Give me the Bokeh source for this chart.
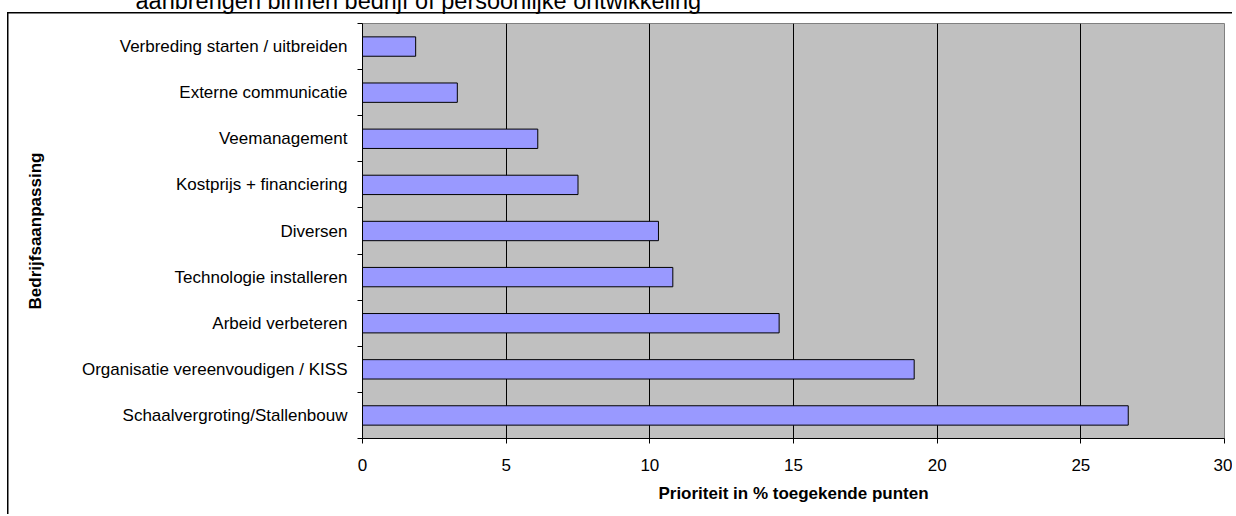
from bokeh.plotting import figure
from bokeh.models import Range1d, FixedTicker, ColumnDataSource
from bokeh.embed import file_html
from bokeh.resources import INLINE

# ---- data ----
categories = [
    "Verbreding starten / uitbreiden",
    "Externe communicatie",
    "Veemanagement",
    "Kostprijs + financiering",
    "Diversen",
    "Technologie installeren",
    "Arbeid verbeteren",
    "Organisatie vereenvoudigen / KISS",
    "Schaalvergroting/Stallenbouw",
]
values = [1.85, 3.3, 6.1, 7.5, 10.3, 10.8, 14.5, 19.2, 26.65]
x_ticks = [0, 5, 10, 15, 20, 25, 30]
x_title = "Prioriteit in % toegekende punten"
y_title = "Bedrijfsaanpassing"
top_text = "aanbrengen binnen bedrijf of persoonlijke ontwikkeling"

FONT = "Liberation Sans"
M = 30  # part of the canvas pushed above the page top (heading is cut off)

n = len(categories)
pos = [i + 0.5 for i in range(n)]
boundaries = list(range(n + 1))

src = ColumnDataSource(dict(y=pos, right=values, cat=categories))

p = figure(width=1232, height=514 + M, output_backend="svg", toolbar_location=None,
           x_range=Range1d(0, 30), y_range=Range1d(n, 0),
           min_border_left=362, min_border_right=8, min_border_top=23 + M,
           min_border_bottom=76)
p.styles = {
    "margin-top": f"-{M}px",
    "background-image": "linear-gradient(#000, #000), linear-gradient(#000, #000)",
    "background-size": "1.5px 100%, 100% 1.5px",
    "background-position": f"7px {12 + M}px, 7px {12 + M}px",
    "background-repeat": "no-repeat",
}

p.title.text = top_text
p.title.text_font = FONT
p.title.text_font_size = "23.5px"
p.title.text_font_style = "normal"
p.title.text_color = "black"
p.title.align = "left"
p.title.offset = 135 - 362
p.title.standoff = 19

p.background_fill_color = "#C0C0C0"
p.border_fill_alpha = 0
p.outline_line_color = "#808080"
p.outline_line_width = 1

# grid
p.xgrid.ticker = FixedTicker(ticks=x_ticks)
p.xgrid.grid_line_color = "black"
p.xgrid.grid_line_width = 1
p.ygrid.visible = False

# bars
p.hbar(y="y", right="right", left=0, height=0.42, source=src,
       fill_color="#9999FF", line_color="black", line_width=1)

# x axis
xa = p.xaxis[0]
xa.ticker = FixedTicker(ticks=x_ticks)
xa.axis_line_color = "black"
xa.major_tick_line_color = "black"
xa.major_tick_out = 5
xa.major_tick_in = 0
xa.minor_tick_line_color = None
xa.major_label_text_font = FONT
xa.major_label_text_font_size = "17px"
xa.major_label_text_color = "black"
xa.major_label_standoff = 15
xa.axis_label = x_title
xa.axis_label_text_font = FONT
xa.axis_label_text_font_size = "17px"
xa.axis_label_text_font_style = "bold"
xa.axis_label_text_color = "black"
xa.axis_label_standoff = 10

# y axis
ya = p.yaxis[0]
ya.ticker = FixedTicker(ticks=pos, minor_ticks=boundaries)
ya.major_label_overrides = {pos[i]: categories[i] for i in range(n)}
ya.axis_line_color = "black"
ya.major_tick_line_color = None
ya.major_tick_out = 0
ya.major_tick_in = 0
ya.minor_tick_line_color = "black"
ya.minor_tick_out = 5
ya.minor_tick_in = 0
ya.major_label_text_font = FONT
ya.major_label_text_font_size = "17px"
ya.major_label_text_color = "black"
ya.major_label_standoff = 10
ya.axis_label = y_title
ya.axis_label_text_font = FONT
ya.axis_label_text_font_size = "17px"
ya.axis_label_text_font_style = "bold"
ya.axis_label_text_color = "black"
ya.axis_label_standoff = 34

open("out.html", "w").write(file_html(p, INLINE))
